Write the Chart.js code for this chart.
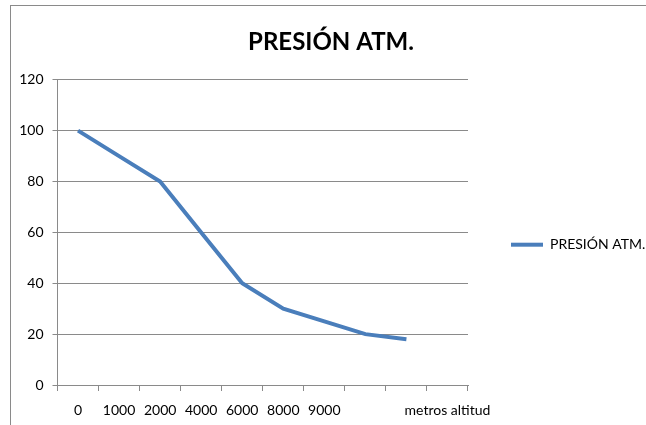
<!DOCTYPE html>
<html>
<head>
<meta charset="utf-8">
<script src="https://cdn.jsdelivr.net/npm/chart.js@4/dist/chart.umd.min.js"></script>
<style>
  html, body { margin: 0; padding: 0; background: #fff; }
  #wrap { position: relative; width: 646px; height: 425px; overflow: hidden; }
  #frame { position: absolute; left: 10px; top: 5px; width: 660px; height: 440px;
           border-top: 1.5px solid #8a8a8a; border-left: 1.5px solid #8a8a8a; box-sizing: border-box; }
  canvas { position: absolute; left: 0; top: 0; }
</style>
</head>
<body>
<div id="wrap">
  <div id="frame"></div>
  <canvas id="c" width="646" height="425"></canvas>
</div>
<script>
const categories = ["0", "1000", "2000", "4000", "6000", "8000", "9000", "", "", "metros altitud"];
const presionValues = [100, 90, 80, 60, 40, 30, 25, 20, 18, null];
const seriesName = "PRESIÓN ATM.";
const chartTitle = "PRESIÓN ATM.";
const yTicks = { min: 0, max: 120, step: 20 };

const FONT = "Lato, 'Open Sans', 'DejaVu Sans', sans-serif";
const GRID = "#8a8a8a";
const BLUE = "#4a7ebb";

new Chart(document.getElementById("c"), {
  type: "line",
  data: {
    labels: categories,
    datasets: [{
      label: seriesName,
      data: presionValues,
      borderColor: BLUE,
      backgroundColor: BLUE,
      borderWidth: 4,
      pointRadius: 0,
      tension: 0,
      spanGaps: false,
      borderCapStyle: "butt",
      borderJoinStyle: "miter"
    }]
  },
  options: {
    responsive: false,
    animation: false,
    devicePixelRatio: 1,
    layout: { padding: { left: 16, right: 0, top: 0, bottom: 0 } },
    plugins: {
      title: {
        display: true,
        text: chartTitle,
        color: "#000",
        font: { family: FONT, size: 24, weight: "bold" },
        padding: { top: 28, bottom: 23 }
      },
      legend: {
        display: true,
        position: "right",
        maxWidth: 178,
        title: { display: true, text: " ", font: { family: FONT, size: 12 }, padding: { top: 50, bottom: 0 } },
        labels: {
          color: "#000",
          font: { family: FONT, size: 14 },
          boxWidth: 32,
          boxHeight: 4,
          padding: 43,
          generateLabels: (chart) => chart.data.datasets.map((ds, i) => ({
            text: ds.label,
            fillStyle: ds.borderColor,
            strokeStyle: ds.borderColor,
            fontColor: "#000",
            lineWidth: 0,
            hidden: false,
            datasetIndex: i
          }))
        }
      },
      tooltip: { enabled: false }
    },
    scales: {
      x: {
        type: "category",
        offset: true,
        afterFit: (s) => { s.height = 40; },
        grid: {
          display: true,
          offset: true,
          drawOnChartArea: false,
          drawTicks: true,
          tickLength: 6,
          color: GRID,
          lineWidth: 1
        },
        border: { display: true, color: GRID, width: 1 },
        ticks: {
          color: "#000",
          font: { family: FONT, size: 14 },
          padding: 11,
          maxRotation: 0,
          autoSkip: false
        }
      },
      y: {
        min: yTicks.min,
        max: yTicks.max,
        afterFit: (s) => { s.width = 41.5; },
        grid: {
          color: GRID,
          lineWidth: 1,
          drawTicks: true,
          tickLength: 5
        },
        border: { display: true, color: GRID, width: 1 },
        ticks: {
          stepSize: yTicks.step,
          color: "#000",
          font: { family: FONT, size: 14 },
          padding: 9
        }
      }
    }
  }
});
</script>
</body>
</html>
